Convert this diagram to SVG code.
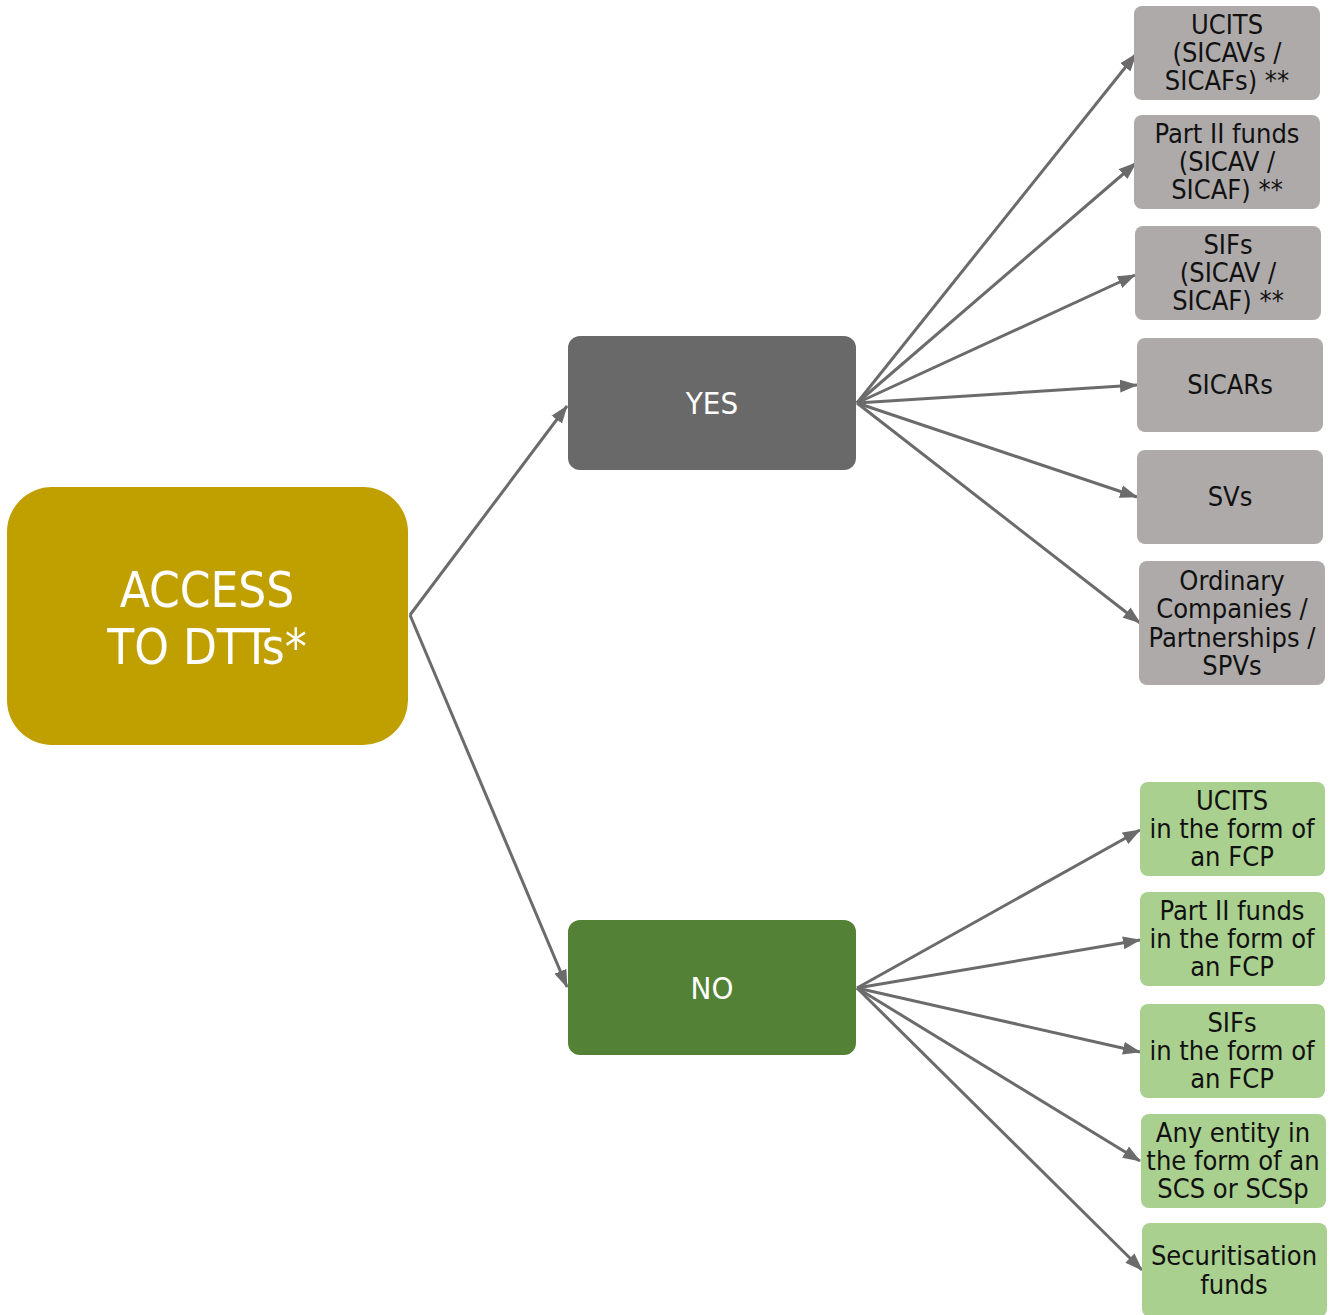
<svg xmlns="http://www.w3.org/2000/svg" width="1331" height="1315" viewBox="0 0 1331 1315">
<style>
.conn{stroke:#6b6b6b;stroke-width:3;fill:none;marker-end:url(#ah)}
.t{font-family:"DejaVu Sans Condensed","DejaVu Sans",sans-serif;text-anchor:middle}
.s{font-size:27px;fill:#111}
.gray{fill:#AEAAAA}
.green{fill:#A9D08E}
</style>
<defs>
<marker id="ah" markerUnits="userSpaceOnUse" markerWidth="20" markerHeight="14" refX="17" refY="7" orient="auto">
<path d="M0,0.5 L18,7 L0,13.5 z" fill="#6b6b6b"/>
</marker>
</defs>
<rect width="1331" height="1315" fill="#fff"/>
<g id="connectors">
<line class="conn" x1="410" y1="615" x2="567" y2="406"/>
<line class="conn" x1="410" y1="615" x2="567" y2="987"/>
<line class="conn" x1="857" y1="403" x2="1136" y2="54"/>
<line class="conn" x1="857" y1="403" x2="1136" y2="163"/>
<line class="conn" x1="857" y1="403" x2="1135" y2="275"/>
<line class="conn" x1="857" y1="403" x2="1137" y2="385"/>
<line class="conn" x1="857" y1="403" x2="1137" y2="497"/>
<line class="conn" x1="857" y1="403" x2="1140" y2="623"/>
<line class="conn" x1="857" y1="988" x2="1140" y2="830"/>
<line class="conn" x1="857" y1="988" x2="1140" y2="940"/>
<line class="conn" x1="857" y1="988" x2="1140" y2="1052"/>
<line class="conn" x1="857" y1="988" x2="1140" y2="1161"/>
<line class="conn" x1="857" y1="988" x2="1142" y2="1270"/>
</g>
<g id="access">
<rect x="7" y="487" width="401" height="258" rx="45" fill="#C09F00"/>
<text class="t" x="207" y="607" font-size="49" fill="#fff">ACCESS</text>
<text class="t" x="207" y="664" font-size="49" fill="#fff">TO DTTs*</text>
</g>
<g id="yes">
<rect x="568" y="336" width="288" height="134" rx="12" fill="#696969"/>
<text class="t" x="712" y="414" font-size="31" fill="#fff">YES</text>
</g>
<g id="no">
<rect x="568" y="920" width="288" height="135" rx="12" fill="#538135"/>
<text class="t" x="712" y="999" font-size="31" fill="#fff">NO</text>
</g>
<g id="g1">
<rect class="gray" x="1134" y="6" width="186" height="94" rx="8"/>
<text class="t s"><tspan x="1227" y="34">UCITS</tspan><tspan x="1227" y="62">(SICAVs /</tspan><tspan x="1227" y="90">SICAFs) **</tspan></text>
</g>
<g id="g2">
<rect class="gray" x="1134" y="115" width="186" height="94" rx="8"/>
<text class="t s"><tspan x="1227" y="143">Part II funds</tspan><tspan x="1227" y="171">(SICAV /</tspan><tspan x="1227" y="199">SICAF) **</tspan></text>
</g>
<g id="g3">
<rect class="gray" x="1135" y="226" width="186" height="94" rx="8"/>
<text class="t s"><tspan x="1228" y="254">SIFs</tspan><tspan x="1228" y="282">(SICAV /</tspan><tspan x="1228" y="310">SICAF) **</tspan></text>
</g>
<g id="g4">
<rect class="gray" x="1137" y="338" width="186" height="94" rx="8"/>
<text class="t s" x="1230" y="394">SICARs</text>
</g>
<g id="g5">
<rect class="gray" x="1137" y="450" width="186" height="94" rx="8"/>
<text class="t s" x="1230" y="506">SVs</text>
</g>
<g id="g6">
<rect class="gray" x="1139" y="561" width="186" height="124" rx="8"/>
<text class="t s"><tspan x="1232" y="590">Ordinary</tspan><tspan x="1232" y="618">Companies /</tspan><tspan x="1232" y="647">Partnerships /</tspan><tspan x="1232" y="675">SPVs</tspan></text>
</g>
<g id="n1">
<rect class="green" x="1140" y="782" width="185" height="94" rx="8"/>
<text class="t s"><tspan x="1232" y="810">UCITS</tspan><tspan x="1232" y="838">in the form of</tspan><tspan x="1232" y="866">an FCP</tspan></text>
</g>
<g id="n2">
<rect class="green" x="1140" y="892" width="185" height="94" rx="8"/>
<text class="t s"><tspan x="1232" y="920">Part II funds</tspan><tspan x="1232" y="948">in the form of</tspan><tspan x="1232" y="976">an FCP</tspan></text>
</g>
<g id="n3">
<rect class="green" x="1140" y="1004" width="185" height="94" rx="8"/>
<text class="t s"><tspan x="1232" y="1032">SIFs</tspan><tspan x="1232" y="1060">in the form of</tspan><tspan x="1232" y="1088">an FCP</tspan></text>
</g>
<g id="n4">
<rect class="green" x="1141" y="1114" width="185" height="94" rx="8"/>
<text class="t s"><tspan x="1233" y="1142">Any entity in</tspan><tspan x="1233" y="1170">the form of an</tspan><tspan x="1233" y="1198">SCS or SCSp</tspan></text>
</g>
<g id="n5">
<rect class="green" x="1142" y="1223" width="185" height="94" rx="8"/>
<text class="t s"><tspan x="1234" y="1265">Securitisation</tspan><tspan x="1234" y="1294">funds</tspan></text>
</g>
</svg>
